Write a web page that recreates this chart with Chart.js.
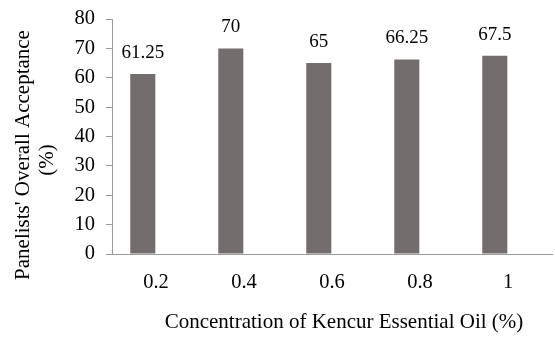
<!DOCTYPE html>
<html>
<head>
<meta charset="utf-8">
<script src="https://cdn.jsdelivr.net/npm/chart.js@4/dist/chart.umd.min.js"></script>
<style>
html,body{margin:0;padding:0;background:#fff;}
#wrap{width:555px;height:337px;}
</style>
</head>
<body>
<div id="wrap"><canvas id="c" width="555" height="337"></canvas></div>
<script>
// ---- data ----
const categories = ['0.2', '0.4', '0.6', '0.8', '1'];
const acceptance = [61.25, 70, 65, 66.25, 67.5];
const dataLabels = ['61.25', '70', '65', '66.25', '67.5'];
const blankSeries = [null, null, null, null, null];
const yTicks = [0, 10, 20, 30, 40, 50, 60, 70, 80];
const xTitle = 'Concentration of Kencur Essential Oil (%)';
const yTitleLines = ["Panelists' Overall Acceptance", '(%)'];

// ---- style ----
const FONT = '"Liberation Serif", "Times New Roman", serif';
const AXIS = '#9a9a9a';
const BAR = '#736e6d';

const labelPlugin = {
  id: 'labels',
  afterDatasetsDraw(chart) {
    const ctx = chart.ctx;
    const meta = chart.getDatasetMeta(0);
    ctx.save();
    ctx.font = '19px ' + FONT;
    ctx.fillStyle = '#000';
    ctx.textAlign = 'center';
    ctx.textBaseline = 'middle';
    meta.data.forEach((bar, i) => {
      ctx.fillText(dataLabels[i], bar.x, bar.y - 21);
    });
    ctx.restore();
  },
  afterDraw(chart) {
    const ctx = chart.ctx;
    ctx.save();
    ctx.font = '21px ' + FONT;
    ctx.fillStyle = '#000';
    ctx.textAlign = 'center';
    ctx.textBaseline = 'alphabetic';
    ctx.fillText(xTitle, 344, 328);
    ctx.save();
    ctx.translate(29, 155);
    ctx.rotate(-Math.PI / 2);
    ctx.fillText(yTitleLines[0], 0, 0);
    ctx.restore();
    ctx.save();
    ctx.translate(53, 160);
    ctx.rotate(-Math.PI / 2);
    ctx.fillText(yTitleLines[1], 0, 0);
    ctx.restore();
    ctx.restore();
  }
};

new Chart(document.getElementById('c'), {
  type: 'bar',
  data: {
    labels: categories,
    datasets: [
      { label: 'Overall Acceptance', data: acceptance, backgroundColor: BAR, borderWidth: 0,
        categoryPercentage: 0.6, barPercentage: 0.95 },
      { label: '', data: blankSeries, backgroundColor: BAR,
        categoryPercentage: 0.6, barPercentage: 0.95 }
    ]
  },
  options: {
    responsive: false,
    animation: false,
    devicePixelRatio: 1,
    layout: { padding: { left: 0, right: 3, top: 19, bottom: 0 } },
    plugins: { legend: { display: false }, tooltip: { enabled: false } },
    scales: {
      x: {
        grid: { display: false, drawTicks: false },
        border: { display: true, color: AXIS, width: 1 },
        ticks: { color: '#000', font: { family: FONT, size: 20.5 }, padding: 16, maxRotation: 0 },
        afterFit(s) { s.height = 83; s.paddingLeft = 0; s.paddingRight = 0; }
      },
      y: {
        min: 0, max: 80,
        afterBuildTicks(s) { s.ticks = yTicks.map(v => ({ value: v })); },
        grid: { display: true, drawOnChartArea: false, drawTicks: true, tickLength: 6, color: AXIS },
        border: { display: true, color: AXIS, width: 1 },
        ticks: { color: '#000', font: { family: FONT, size: 20.5 }, padding: 11 },
        afterFit(s) { s.width = 112; s.paddingTop = 0; s.paddingBottom = 0; }
      }
    }
  },
  plugins: [labelPlugin]
});
</script>
</body>
</html>
